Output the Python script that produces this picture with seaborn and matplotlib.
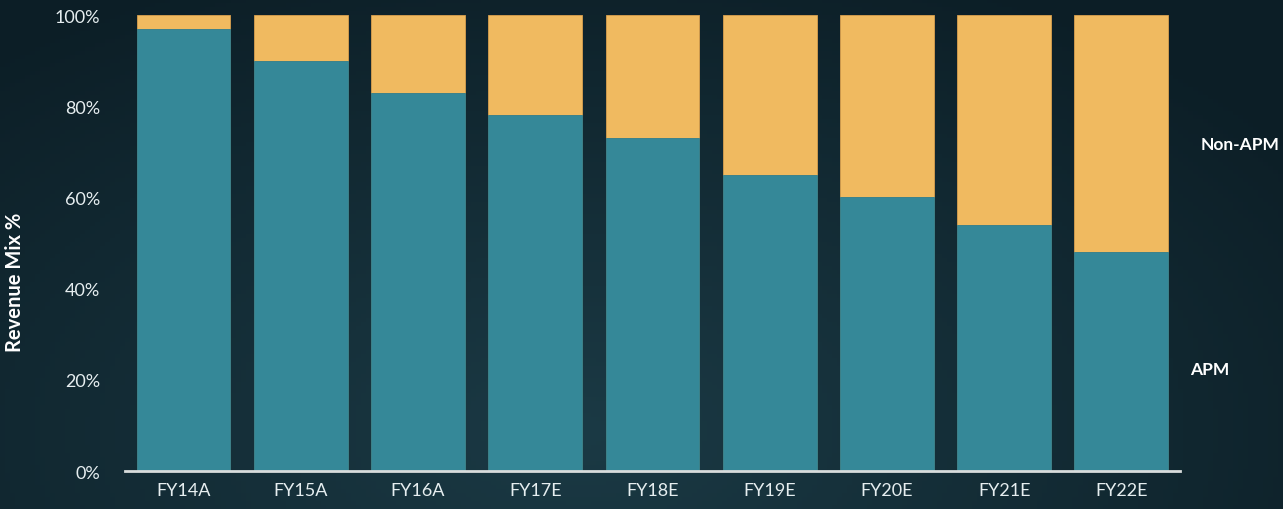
import numpy as np
import pandas as pd
import matplotlib
matplotlib.use("Agg")
import matplotlib.pyplot as plt
import seaborn as sns

categories = ["FY14A", "FY15A", "FY16A", "FY17E", "FY18E", "FY19E", "FY20E", "FY21E", "FY22E"]
apm = [97, 90, 83, 78, 73, 65, 60, 54, 48]
non_apm = [3, 10, 17, 22, 27, 35, 40, 46, 52]
y_ticks = [0, 20, 40, 60, 80, 100]
y_tick_labels = ["0%", "20%", "40%", "60%", "80%", "100%"]

sns.set_theme(style="white")
plt.rcParams["font.family"] = ["Lato", "DejaVu Sans"]

df = pd.DataFrame({"cat": categories, "apm": apm,
                   "total": [a + b for a, b in zip(apm, non_apm)]})

fig = plt.figure(figsize=(12.83, 5.10), dpi=100)
fig.patch.set_facecolor("#10252d")

# background gradient
bg = fig.add_axes([0, 0, 1, 1], zorder=-10)
xx = np.linspace(0, 1, 256)
yy = np.linspace(0, 1, 128)
X, Y = np.meshgrid(xx, yy)
val = np.clip(1 - np.hypot((X - 0.45) / 0.7, (Y - 0.15) / 1.0), 0, 1)
c0 = np.array([0x0c, 0x1e, 0x26]) / 255
c1 = np.array([0x1b, 0x3a, 0x45]) / 255
img = c0[None, None, :] + (c1 - c0)[None, None, :] * val[..., None]
bg.imshow(img, aspect="auto", extent=[0, 1, 0, 1], origin="lower")
bg.axis("off")

ax = fig.add_axes([0.0974, 0.0745, 0.8223, 0.894])
ax.set_facecolor("none")
sns.barplot(data=df, x="cat", y="total", color="#f0ba60", saturation=1,
            width=0.8, ax=ax, edgecolor="#d9a04e", linewidth=0.6)
sns.barplot(data=df, x="cat", y="apm", color="#358898", saturation=1,
            width=0.8, ax=ax, edgecolor="#2f7d8c", linewidth=0.6)

ax.set_xlim(-0.5, len(categories) - 0.5)
ax.set_ylim(0, 100)
ax.set_yticks(y_ticks)
ax.set_yticklabels(y_tick_labels)
ax.set_xlabel("")
ax.set_ylabel("Revenue Mix %", color="white", fontsize=14.5, fontweight="bold")
ax.yaxis.set_label_coords(-0.0948, 0.417)
ax.tick_params(axis="both", colors="#e6eef0", labelsize=13, length=0)
ax.tick_params(axis="y", pad=18)
ax.tick_params(axis="x", pad=8)
for s in ["top", "right", "left"]:
    ax.spines[s].set_visible(False)
ax.spines["bottom"].set_color("#d8dcdc")
ax.spines["bottom"].set_linewidth(2)

fig.text(1279 / 1283, 1 - 145 / 510, "Non-APM", color="white", fontsize=12.5,
         fontweight="bold", ha="right", va="center")
fig.text(1190 / 1283, 1 - 370 / 510, "APM", color="white", fontsize=12.5,
         fontweight="bold", ha="left", va="center")

fig.savefig("out.png", dpi=100, facecolor=fig.get_facecolor())
